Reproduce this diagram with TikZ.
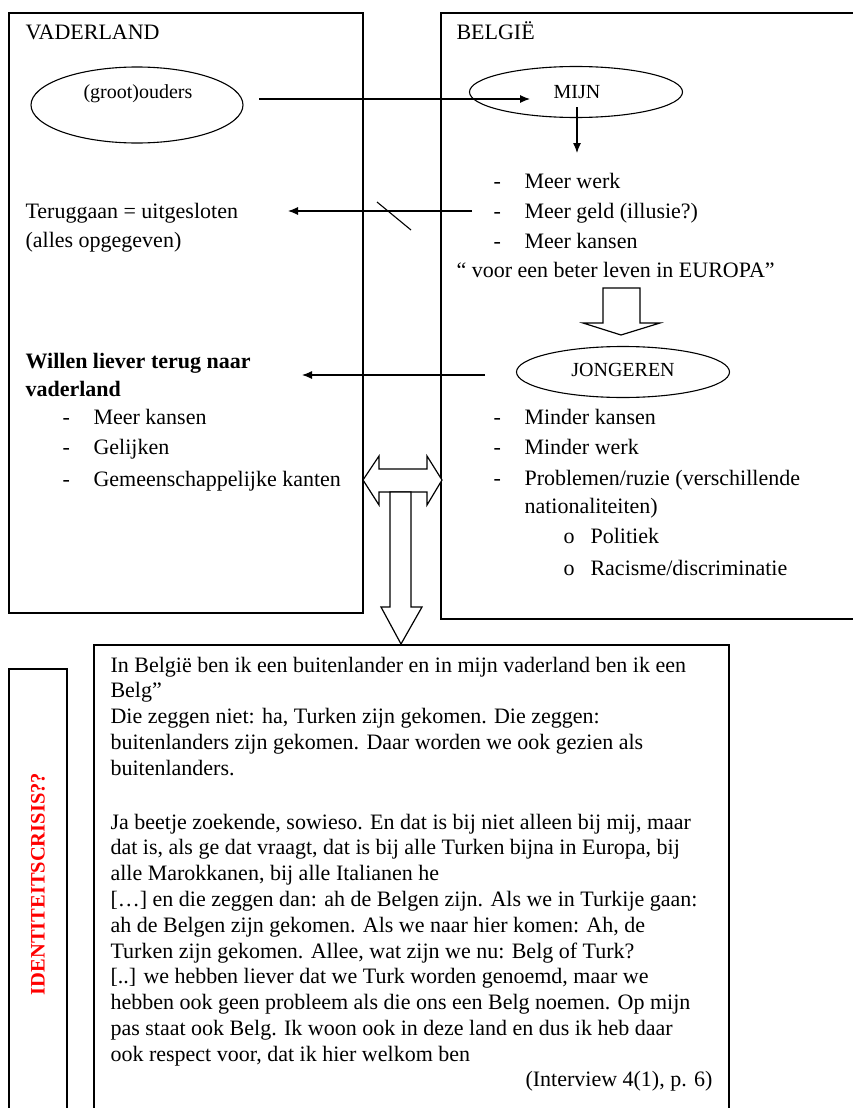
\documentclass[tikz,border=0pt]{standalone}
\usepackage{fontspec}
\setmainfont{Liberation Serif}
\usetikzlibrary{arrows.meta,shapes.geometric}

\tikzset{
  box/.style={line width=1.5pt},
  oval/.style={draw, ellipse, line width=1.1pt, inner sep=0pt},
  txt/.style={anchor=base west, inner sep=0pt, font=\fontsize{22}{26}\selectfont},
  small/.style={anchor=base, inner sep=0pt, font=\fontsize{20}{24}\selectfont},
  hollow/.style={draw, fill=white, line width=1.2pt, line join=miter},
}

\begin{document}
\begin{tikzpicture}[x=1pt,y=-1pt,>={Latex[length=10pt,width=8pt]},line width=1.1pt]
\useasboundingbox (0,0) rectangle (853,1108);

\draw[box] (9,13) rectangle (363,613);
\draw[box] (858,13) -- (441,13) -- (441,619) -- (858,619);
\draw[box] (9,1112) -- (9,669) -- (67,669) -- (67,1112);
\draw[box] (94,1112) -- (94,645) -- (729,645) -- (729,1112);

\node[txt] (vaderland) at (25,40) {VADERLAND};
\node[txt] (belgie) at (456,40) {BELGIË};

\node[oval, minimum width=212pt, minimum height=76pt] (ouders) at (137,105) {};
\node[small] (ouders-txt) at (138,99) {(groot)ouders};
\node[oval, minimum width=213pt, minimum height=51pt] (mijn) at (576,92) {};
\node[small] (mijn-txt) at (577,98) {MIJN};
\node[oval, minimum width=213pt, minimum height=51pt] (jong) at (623,372) {};
\node[small] (jong-txt) at (623,376) {JONGEREN};

\foreach \i/\y/\t in {1/188/Meer werk, 2/218/{Meer geld (illusie?)}, 3/248/Meer kansen}
{
   \node[txt] (meer-dash-\i) at (493,\y) {-};
   \node[txt] (meer-\i) at (524,\y) {\t};
}
\node[txt] (europa) at (456,277) {“ voor een beter leven in EUROPA”};

\node[txt] (terug) at (25,218) {Teruggaan = uitgesloten};
\node[txt] (alles) at (25,247) {(alles opgegeven)};

\node[txt, font=\fontsize{22}{26}\selectfont\bfseries] (willen) at (25,368) {Willen liever terug naar};
\node[txt, font=\fontsize{22}{26}\selectfont\bfseries] (willen-2) at (25,396) {vaderland};
\foreach \i/\y/\t in {1/424/Meer kansen, 2/454/Gelijken, 3/486/Gemeenschappelijke kanten}
{
   \node[txt] (terug-dash-\i) at (62,\y) {-};
   \node[txt] (terug-\i) at (93,\y) {\t};
}

\foreach \i/\y/\t in {1/424/Minder kansen, 2/454/Minder werk, 3/485/{Problemen/ruzie (verschillende}}
{
   \node[txt] (minder-dash-\i) at (493,\y) {-};
   \node[txt] (minder-\i) at (524,\y) {\t};
}
\node[txt] (minder-4) at (524,513) {nationaliteiten)};
\foreach \i/\y/\t in {1/543/Politiek, 2/575/{Racisme/discriminatie}}
{
   \node[txt] (sub-bul-\i) at (563,\y) {o};
   \node[txt] (sub-\i) at (590,\y) {\t};
}

\coordinate (a1) at (259,99);
\coordinate (a2) at (530,99);
\coordinate (b1) at (577,107);
\coordinate (b2) at (577,153);
\coordinate (c1) at (472,211);
\coordinate (c2) at (288,211);
\coordinate (d1) at (485,375);
\coordinate (d2) at (302,375);
\draw[->] (a1) -- (a2);
\draw[->] (b1) -- (b2);
\draw[->] (c1) -- (c2);
\draw (377,202) -- (411,230);
\draw[->] (d1) -- (d2);

\draw[hollow] (603,288) -- (603,323) -- (583,323) -- (621,335) -- (660,323) -- (640,323) -- (640,288) -- cycle;
\draw[hollow] (363,480) -- (379,456) -- (379,469) -- (427,469) -- (427,456) -- (442,480)
   -- (427,505) -- (427,492) -- (379,492) -- (379,505) -- cycle;
\draw[hollow] (390,492) -- (390,607) -- (381,607) -- (401,644) -- (422,607) -- (411,607) -- (411,492) -- cycle;

\node[font=\fontsize{20.5}{24}\selectfont\bfseries, text=red, rotate=90, inner sep=0pt] (crisis) at (38,884) {IDENTITEITSCRISIS??};

\foreach \t [count=\i] in {{In België ben ik een buitenlander en in mijn vaderland ben ik een},
   {Belg”}, {Die zeggen niet: ha, Turken zijn gekomen. Die zeggen:},
   {buitenlanders zijn gekomen. Daar worden we ook gezien als}, {buitenlanders.}}
{
   \node[txt] (quote-a-\i) at (110,{672+25.8*(\i-1)}) {\t};
}
\foreach \t [count=\i] in {{Ja beetje zoekende, sowieso. En dat is bij niet alleen bij mij, maar},
   {dat is, als ge dat vraagt, dat is bij alle Turken bijna in Europa, bij},
   {alle Marokkanen, bij alle Italianen he},
   {[…] en die zeggen dan: ah de Belgen zijn. Als we in Turkije gaan:},
   {ah de Belgen zijn gekomen. Als we naar hier komen: Ah, de},
   {Turken zijn gekomen. Allee, wat zijn we nu: Belg of Turk?},
   {[..] we hebben liever dat we Turk worden genoemd, maar we},
   {hebben ook geen probleem als die ons een Belg noemen. Op mijn},
   {pas staat ook Belg. Ik woon ook in deze land en dus ik heb daar},
   {ook respect voor, dat ik hier welkom ben}}
{
   \node[txt] (quote-b-\i) at (110,{829+25.8*(\i-1)}) {\t};
}
\node[txt, anchor=base east] (bron) at (713,1086) {(Interview 4(1), p. 6)};

\end{tikzpicture}
\end{document}
